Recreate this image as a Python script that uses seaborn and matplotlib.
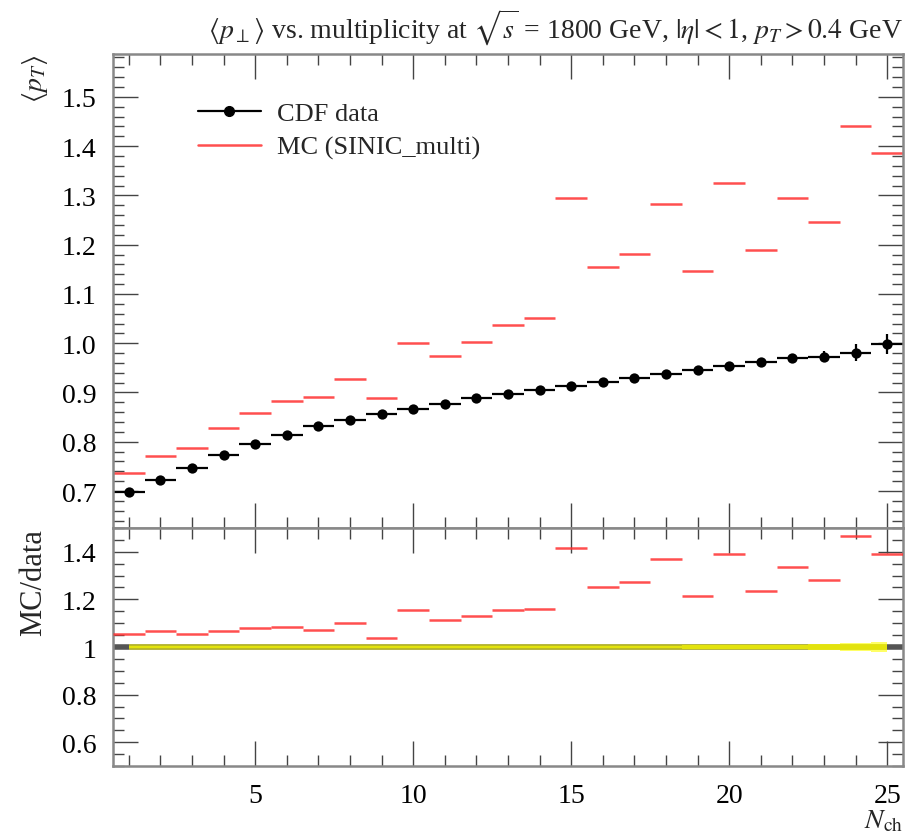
import numpy as np
import pandas as pd
import matplotlib
matplotlib.use("Agg")
import matplotlib.pyplot as plt
import seaborn as sns
from matplotlib.lines import Line2D
from matplotlib.ticker import MultipleLocator, FormatStrFormatter

# Values (bins in N_ch)
n_ch = list(range(1, 26))
data_pt = [0.699, 0.722, 0.746, 0.774, 0.795, 0.814, 0.831, 0.844, 0.856, 0.867,
           0.876, 0.888, 0.896, 0.905, 0.913, 0.921, 0.929, 0.937, 0.945, 0.953,
           0.961, 0.970, 0.973, 0.981, 0.998]
data_err = [0.003, 0.003, 0.003, 0.003, 0.003, 0.003, 0.003, 0.003, 0.003, 0.003,
            0.004, 0.004, 0.004, 0.004, 0.004, 0.005, 0.005, 0.005, 0.006, 0.007,
            0.008, 0.009, 0.012, 0.017, 0.020]
mc_pt = [0.737, 0.772, 0.787, 0.827, 0.858, 0.882, 0.890, 0.928, 0.888, 1.001,
         0.974, 1.003, 1.037, 1.051, 1.294, 1.155, 1.181, 1.282, 1.146, 1.325,
         1.189, 1.294, 1.246, 1.440, 1.386]

df = pd.DataFrame({"nch": n_ch, "data": data_pt, "err": data_err, "mc": mc_pt})
df["lo"] = df["nch"] - 0.5
df["hi"] = df["nch"] + 0.5
df["ratio"] = df["mc"] / df["data"]
df["rel_err"] = df["err"] / df["data"]

sns.set_theme(style="white")
plt.rcParams["font.family"] = ["Liberation Serif", "DejaVu Serif"]
plt.rcParams["mathtext.fontset"] = "stix"

fs = 20
red = "#ff3030"
fig = plt.figure(figsize=(9.17, 8.37), dpi=100)
ax = fig.add_axes([0.1232, 0.3680, 0.8615, 0.5663])
rax = fig.add_axes([0.1232, 0.0836, 0.8615, 0.2844], sharex=ax)

# ---- main panel
ax.hlines(df["mc"], df["lo"], df["hi"], color=red, lw=1.8, alpha=0.85)
ax.errorbar(df["nch"], df["data"], xerr=0.5, yerr=df["err"], fmt="none",
            ecolor="black", elinewidth=1.6, capsize=0)
sns.scatterplot(data=df, x="nch", y="data", ax=ax, color="black", s=55,
                edgecolor="black", linewidth=0, zorder=5, legend=False)

ax.set_xlim(0.5, 25.5)
ax.set_ylim(0.625, 1.587)
ax.yaxis.set_major_locator(MultipleLocator(0.1))
ax.yaxis.set_minor_locator(MultipleLocator(0.02))
ax.yaxis.set_major_formatter(FormatStrFormatter("%.1f"))
ax.set_xlabel("")
ax.set_ylabel(r"$\langle p_T\rangle$", loc="top", fontsize=fs, labelpad=8)
ax.tick_params(labelbottom=False)
ax.set_title(r"$\langle p_\perp\rangle$ vs. multiplicity at $\sqrt{s}$ = 1800 GeV, "
             r"$|\eta| < 1$, $p_T > 0.4$ GeV", fontsize=20, pad=12, loc="right")

handles = [Line2D([], [], color="black", lw=1.6, marker="o", ms=7),
           Line2D([], [], color=red, lw=1.8, alpha=0.85)]
ax.legend(handles, ["CDF data", "MC (SINIC_multi)"], loc="upper left",
          bbox_to_anchor=(0.077, 0.95), frameon=False, fontsize=19,
          handlelength=2.4, handletextpad=0.6, labelspacing=0.4)

# ---- ratio panel
rax.axhline(1.0, color="#555555", lw=4, zorder=1)
rax.hlines(1.0, 1, 25, color="#ffff00", lw=4, alpha=0.6, zorder=2)
rax.fill_between(df["nch"], 1 - df["rel_err"], 1 + df["rel_err"], step="mid",
                 color="#ffff00", alpha=0.6, lw=0, zorder=2)
rax.hlines(df["ratio"], df["lo"], df["hi"], color=red, lw=1.8, alpha=0.85, zorder=3)
rax.set_ylim(0.5, 1.5)
rax.yaxis.set_major_locator(MultipleLocator(0.2))
rax.yaxis.set_minor_locator(MultipleLocator(0.05))
rax.yaxis.set_major_formatter(FormatStrFormatter("%g"))
rax.set_ylabel("MC/data", loc="top", fontsize=22, labelpad=10)
rax.set_xlabel(r"$N_{\mathrm{ch}}$", loc="right", fontsize=fs, labelpad=0)
rax.xaxis.set_major_locator(MultipleLocator(5))
rax.xaxis.set_minor_locator(MultipleLocator(1))

for a in (ax, rax):
    a.tick_params(which="both", direction="in", top=True, right=True, left=True,
                  bottom=True, colors="#444444", labelcolor="black", labelsize=fs)
    a.tick_params(which="major", length=18, width=1.0)
    a.tick_params(which="minor", length=8, width=1.0)
    a.tick_params(axis="y", pad=12)
    a.tick_params(axis="x", pad=12)
    for s in a.spines.values():
        s.set_color("#888888")
        s.set_linewidth(1.8)

fig.savefig("out.png", dpi=100)
